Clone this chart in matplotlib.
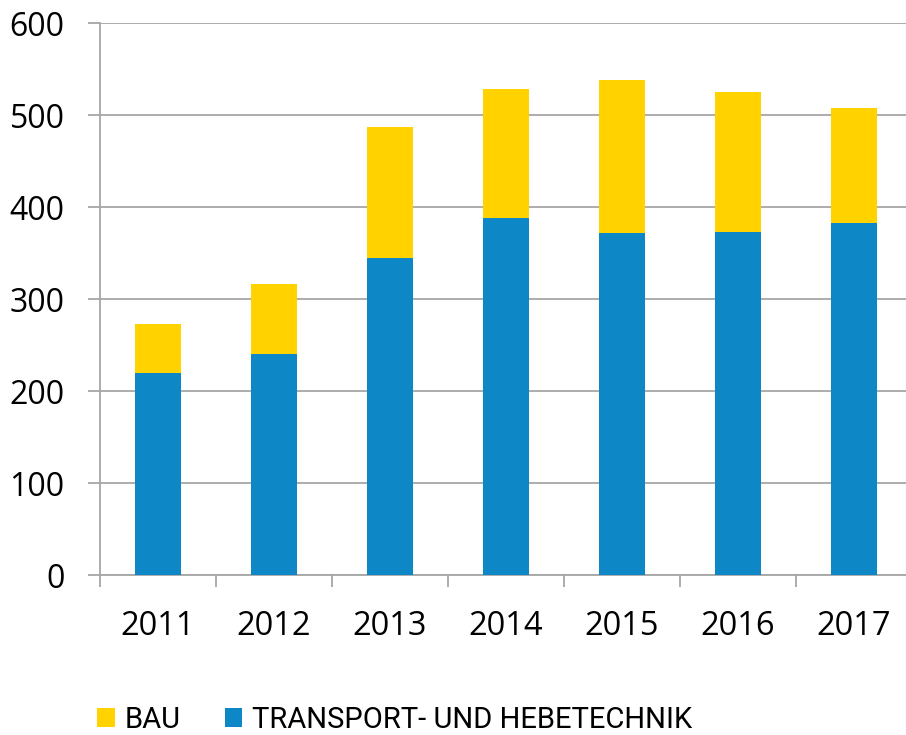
import matplotlib.pyplot as plt
from matplotlib.ticker import FixedLocator

years = ["2011", "2012", "2013", "2014", "2015", "2016", "2017"]
transport = [220, 240, 345, 388, 372, 373, 383]
bau = [53, 76, 142, 140, 166, 152, 125]

yellow = "#FFD200"
blue = "#0D87C6"
grid_gray = "#A6A6A6"

fig = plt.figure(figsize=(9.06, 7.35), dpi=100)
ax = fig.add_axes([100 / 906, 160 / 735, 812 / 906, 552 / 735])

x = list(range(len(years)))
ax.bar(x, transport, width=0.4, color=blue, label="TRANSPORT- UND HEBETECHNIK", zorder=3)
ax.bar(x, bau, width=0.4, bottom=transport, color=yellow, label="BAU", zorder=3)

ax.set_xlim(-0.5, len(years) - 0.5)
ax.set_ylim(0, 600)
ax.set_yticks(range(0, 601, 100))
ax.yaxis.grid(True, color=grid_gray, linewidth=1.3, zorder=0)
ax.set_axisbelow(True)

# category boundaries get the tick marks, labels sit in between
ax.xaxis.set_major_locator(FixedLocator([i - 0.5 for i in range(len(years) + 1)]))
ax.xaxis.set_minor_locator(FixedLocator(x))
ax.set_xticklabels([])
ax.set_xticklabels(years, minor=True)
ax.tick_params(axis="x", which="major", length=8.6, width=1.3, color=grid_gray, direction="out")
ax.tick_params(axis="x", which="minor", length=0, pad=25, labelsize=23.5)
ax.tick_params(axis="y", length=8.6, width=1.3, color=grid_gray, pad=17, labelsize=23)
for lbl in ax.get_xticklabels(minor=True) + ax.get_yticklabels():
    lbl.set_family(["Open Sans", "DejaVu Sans"])

for side in ["top", "right"]:
    ax.spines[side].set_visible(False)
for side in ["left", "bottom"]:
    ax.spines[side].set_color(grid_gray)
    ax.spines[side].set_linewidth(1.3)

h, l = ax.get_legend_handles_labels()
fig.legend(h[::-1], l[::-1], loc="center left", bbox_to_anchor=(71 / 906, 15 / 735),
           ncol=2, frameon=False, handlelength=0.6, handleheight=0.6, handletextpad=0.35,
           columnspacing=1.5, prop={"family": "Roboto", "size": 21})

fig.savefig("out.png", dpi=100)
